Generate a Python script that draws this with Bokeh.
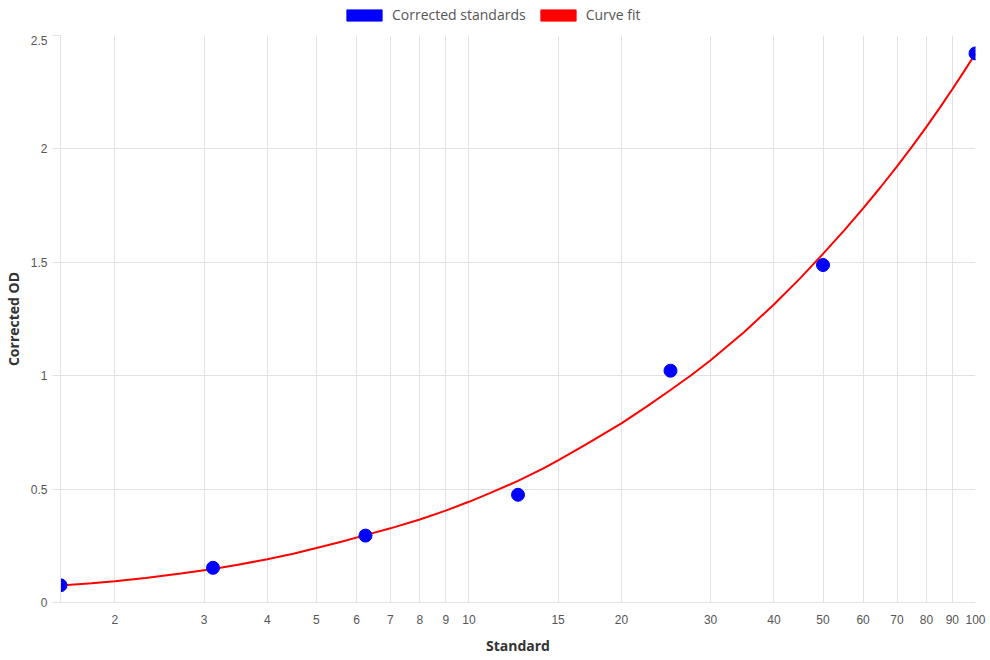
from bokeh.plotting import figure
from bokeh.layouts import column
from bokeh.models import (ColumnDataSource, Legend, LegendItem, FixedTicker,
                          NumeralTickFormatter, Range1d)
from bokeh.embed import file_html
from bokeh.resources import INLINE

# Corrected standards (measured points)
std_x = [1.5625, 3.125, 6.25, 12.5, 25, 50, 100]
std_y = [0.076, 0.153, 0.295, 0.475, 1.022, 1.488, 2.421]

# Curve fit
fit_x = [1.5625, 1.8, 2, 2.3, 2.7, 3.125, 3.5, 4, 4.5, 5, 5.6, 6.25, 7, 8, 9,
         10, 11, 12.5, 14, 15, 17, 20, 22.5, 25, 27.5, 30, 35, 40, 45, 50,
         55, 60, 65, 70, 75, 80, 85, 90, 95, 100]
fit_y = [0.075, 0.085, 0.094, 0.108, 0.128, 0.148, 0.166, 0.191, 0.215, 0.240,
         0.268, 0.297, 0.327, 0.366, 0.405, 0.444, 0.482, 0.536, 0.590, 0.627,
         0.696, 0.790, 0.866, 0.937, 1.003, 1.068, 1.194, 1.314, 1.428, 1.537,
         1.640, 1.738, 1.832, 1.923, 2.011, 2.097, 2.181, 2.263, 2.343, 2.421]

x_ticks = [2, 3, 4, 5, 6, 7, 8, 9, 10, 15, 20, 30, 40, 50, 60, 70, 80, 90, 100]
y_ticks = [0, 0.5, 1, 1.5, 2, 2.5]

series_labels = ["Corrected standards", "Curve fit"]
series_colors = ["#0000ff", "#ff0000"]

GRID = "#e2e2e2"
TICK_FONT = "Liberation Sans"
TITLE_FONT = "Open Sans"

# ---- legend strip above the chart ----
lg = figure(width=990, height=35, output_backend="svg", toolbar_location=None,
            min_border=0, x_axis_location=None, y_axis_location=None)
lg.outline_line_color = None
lg.xgrid.visible = False
lg.ygrid.visible = False
lg.x_range = Range1d(0, 1)
lg.y_range = Range1d(0, 1)
# zero-size swatch anchors: only their legend boxes are seen
swatch = ColumnDataSource(dict(x=[0], y=[0]))
items = []
for lab, col in zip(series_labels, series_colors):
    r = lg.rect("x", "y", width=0, height=0, source=swatch, fill_color=col,
                line_color=col, line_width=1)
    items.append(LegendItem(label=lab, renderers=[r]))
legend = Legend(items=items, orientation="horizontal", location=(282, 11),
                glyph_width=44, glyph_height=14, label_height=14,
                label_standoff=6, spacing=10, padding=0, margin=0,
                border_line_color=None, background_fill_alpha=0,
                label_text_font=TITLE_FONT, label_text_font_size="14px",
                label_text_color="#555555")
lg.add_layout(legend, "center")

# ---- main chart ----
p = figure(width=990, height=625, x_axis_type="log", output_backend="svg",
           toolbar_location=None, min_border_left=60, min_border_right=15,
           min_border_top=0, min_border_bottom=58)
p.x_range = Range1d(std_x[0], std_x[-1])
p.y_range = Range1d(0, 2.5)
p.outline_line_color = None

fit_src = ColumnDataSource(dict(x=fit_x, y=fit_y))
std_src = ColumnDataSource(dict(x=std_x, y=std_y))
p.line("x", "y", source=fit_src, line_color=series_colors[1], line_width=2)
p.scatter("x", "y", source=std_src, size=13, fill_color=series_colors[0],
          line_color=series_colors[0])

# x axis
xa = p.xaxis[0]
xa.ticker = FixedTicker(ticks=x_ticks, minor_ticks=[])
xa.formatter = NumeralTickFormatter(format="0.[0]")
xa.major_tick_out = 0
xa.major_tick_in = 0
xa.minor_tick_out = 0
xa.minor_tick_in = 0
xa.major_label_standoff = 12
xa.axis_line_color = GRID
xa.major_label_text_font = TICK_FONT
xa.major_label_text_font_size = "12px"
xa.major_label_text_color = "#555555"
xa.axis_label = "Standard"
xa.axis_label_text_font = TITLE_FONT
xa.axis_label_text_font_style = "bold"
xa.axis_label_text_font_size = "14px"
xa.axis_label_text_color = "#333333"
xa.axis_label_standoff = 9

# y axis
ya = p.yaxis[0]
ya.ticker = FixedTicker(ticks=y_ticks, minor_ticks=[])
ya.formatter = NumeralTickFormatter(format="0.[0]")
ya.major_tick_out = 8
ya.major_tick_in = 0
ya.minor_tick_out = 0
ya.minor_tick_in = 0
ya.major_tick_line_color = GRID
ya.major_label_standoff = 5
ya.axis_line_color = GRID
ya.major_label_text_font = TICK_FONT
ya.major_label_text_font_size = "12px"
ya.major_label_text_color = "#555555"
ya.axis_label = "Corrected OD"
ya.axis_label_text_font = TITLE_FONT
ya.axis_label_text_font_style = "bold"
ya.axis_label_text_font_size = "14px"
ya.axis_label_text_color = "#333333"
ya.axis_label_standoff = 5

p.xgrid.ticker = FixedTicker(ticks=x_ticks)
p.ygrid.ticker = FixedTicker(ticks=y_ticks)
p.xgrid.grid_line_color = GRID
p.ygrid.grid_line_color = GRID

layout = column(lg, p, spacing=0)
open("out.html", "w").write(file_html(layout, INLINE))
